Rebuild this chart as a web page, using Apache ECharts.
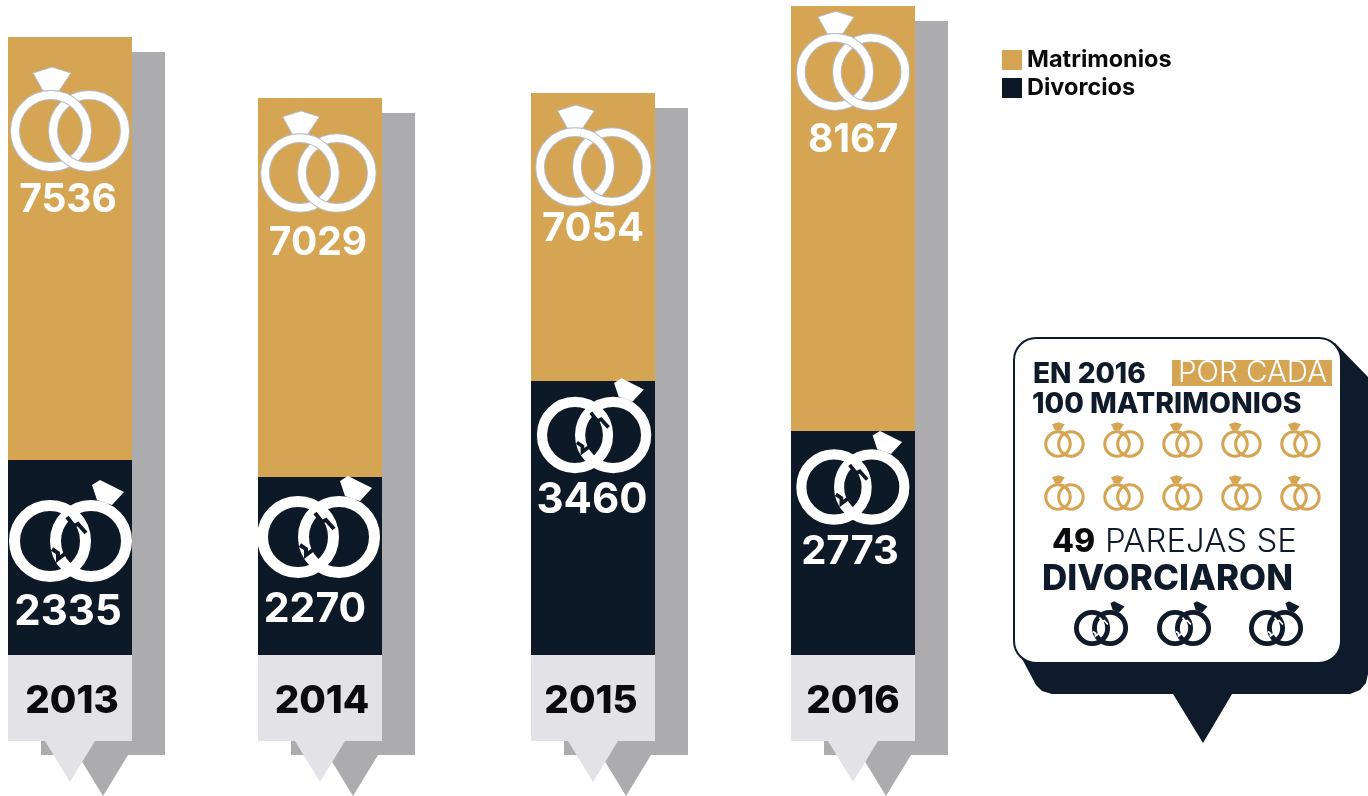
<!DOCTYPE html>
<html>
<head>
<meta charset="utf-8">
<style>html,body{margin:0;padding:0;background:#fff}#c{width:1368px;height:796px}</style>
<script src="https://cdn.jsdelivr.net/npm/echarts@6/dist/echarts.min.js"></script>
</head>
<body>
<div id="c"></div>
<script>
// Printed figures
const years = ['2013', '2014', '2015', '2016'];
const matrimonios = [7536, 7029, 7054, 8167];
const divorcios = [2335, 2270, 3460, 2773];
// The reference's bars are not drawn to the scale of their printed figures,
// so their lengths are read off the picture separately.
const matrimoniosLength = [423, 379, 288, 425];
const divorciosLength = [195, 178, 274, 224];

const GOLD = '#d5a554', NAVY = '#0e1928', GREY = '#acacae', LIGHT = '#e3e2e7', FONT = 'Inter';
const BASE_Y = 655, BAR_W = 124;
const barLeft = [8, 258, 531, 791];
const yearDx = [2, 2, -2, 0];
const matLabelPos = [[60, 163], [60, 145], [62, 136], [62, 134]];
const divLabelPos = [[60, 152], [57, 133], [61, 119], [59, 121]];
const matLabelSize = [39, 39, 40, 39];
const divLabelSize = [42, 41, 42, 40];
const matRings = [[51, 131, 1], [300, 173, 0.97], [575, 167, 0.97], [835, 72, 0.95]];
const divRings = [[50, 541, 1], [298, 537, 1], [575, 435, 0.93], [834, 487, 0.92]];

function ringIcon(cx, cy, s, color, opts) {
  opts = opts || {};
  const out = [], z = 6;
  const gap = (opts.gap || 38) * s, r = (opts.r || 36) * s, lw = (opts.lw || 8) * s;
  const x2 = cx + gap;
  const ring = (x, st, wd) => ({ type: 'circle', silent: true, z: z, shape: { cx: x, cy: cy, r: r }, style: { fill: 'none', stroke: st, lineWidth: wd } });
  const arc = (st, wd) => ({ type: 'arc', silent: true, z: z, shape: { cx: cx, cy: cy, r: r, startAngle: -1.4, endAngle: -0.6, clockwise: true }, style: { fill: 'none', stroke: st, lineWidth: wd } });
  const pts = a => a.map(p => [cx + p[0] * s, cy + p[1] * s]);
  if (opts.broken) {
    out.push({ type: 'polygon', silent: true, z: z, shape: { points: pts([[42, -56], [50, -61], [74, -49], [62, -36], [47, -41]]) }, style: { fill: color } });
    out.push(ring(cx, color, lw), ring(x2, color, lw));
    out.push({ type: 'polyline', silent: true, z: z, shape: { points: pts([[17, -24], [24, -15], [28, -17], [36, -8]]) }, style: { fill: 'none', stroke: opts.bg, lineWidth: 4 * s } });
    out.push({ type: 'polyline', silent: true, z: z, shape: { points: pts([[2, 8], [8, 12], [8, 18], [16, 12]]) }, style: { fill: 'none', stroke: opts.bg, lineWidth: 4 * s } });
  } else {
    out.push({ type: 'polygon', silent: true, z: z, shape: { points: pts([[-18, -58], [1, -64], [20, -58], [8, -40], [-8, -40]]) }, style: { fill: color, stroke: opts.outline || color, lineWidth: opts.outline ? 1 : 0 } });
    if (opts.outline) out.push(ring(cx, opts.outline, lw + 2));
    out.push(ring(cx, color, lw));
    if (opts.outline) out.push(ring(x2, opts.outline, lw + 2));
    out.push(ring(x2, color, lw));
    if (opts.outline) out.push(arc(opts.outline, lw + 2));
    out.push(arc(color, lw));
  }
  return out;
}

const grids = [], xAxes = [], yAxes = [], series = [];
years.forEach((year, i) => {
  grids.push({ left: barLeft[i], top: 0, width: BAR_W, height: BASE_Y, containLabel: false });
  xAxes.push({
    type: 'category', gridIndex: i, data: [year], z: 8,
    axisLine: { show: false }, axisTick: { show: false },
    axisLabel: {
      margin: 27, color: '#0b0b0d', fontFamily: FONT, fontWeight: 800, fontSize: 38.5,
      padding: yearDx[i] > 0 ? [0, 0, 0, 2 * yearDx[i]] : [0, -2 * yearDx[i], 0, 0]
    }
  });
  yAxes.push({ type: 'value', gridIndex: i, min: 0, max: BASE_Y, show: false });
  series.push({
    type: 'custom', name: 'backing', xAxisIndex: i, yAxisIndex: i, z: 1, silent: true,
    data: [[0, matrimoniosLength[i] + divorciosLength[i]]],
    renderItem: function (params, api) {
      const top = api.coord([0, api.value(1)])[1];
      const l = barLeft[i];
      return {
        type: 'group', children: [
          { type: 'polygon', shape: { points: [[l + 33, top + 15], [l + 157, top + 15], [l + 157, 755], [l + 120, 755], [l + 95, 796], [l + 70, 755], [l + 33, 755]] }, style: { fill: GREY } },
          { type: 'polygon', shape: { points: [[l, BASE_Y], [l + BAR_W, BASE_Y], [l + BAR_W, 741], [l + 87, 741], [l + 62, 782], [l + 37, 741], [l, 741]] }, style: { fill: LIGHT } }
        ]
      };
    }
  });
  const lbl = (txt, pos, size) => ({
    show: true, position: pos, align: 'center', verticalAlign: 'middle', formatter: String(txt),
    color: '#fff', fontFamily: FONT, fontWeight: 700, fontSize: size
  });
  series.push({
    type: 'bar', name: 'Divorcios', xAxisIndex: i, yAxisIndex: i, stack: 's' + i, barWidth: '100%', z: 3,
    itemStyle: { color: NAVY }, silent: true,
    label: lbl(divorcios[i], divLabelPos[i], divLabelSize[i]),
    data: [divorciosLength[i]]
  });
  series.push({
    type: 'bar', name: 'Matrimonios', xAxisIndex: i, yAxisIndex: i, stack: 's' + i, barWidth: '100%', z: 3,
    itemStyle: { color: GOLD }, silent: true,
    label: lbl(matrimonios[i], matLabelPos[i], matLabelSize[i]),
    data: [matrimoniosLength[i]]
  });
});

const txt = (x, baseline, text, size, weight, color) => ({
  type: 'text', silent: true, z: 7, x: x, y: baseline - 0.36 * size,
  style: { text: text, fontFamily: FONT, fontSize: size, fontWeight: weight, fill: color, verticalAlign: 'middle' }
});

const graphics = [
  { type: 'polygon', silent: true, z: 3, shape: { points: [[1335, 343], [1368, 377], [1368, 674], [1366, 683], [1360, 690], [1350, 694], [1232, 694], [1203, 743], [1173, 694], [1052, 694], [1042, 691], [1036, 685], [1020, 655]] }, style: { fill: '#0f1a2a' } },
  { type: 'rect', silent: true, z: 4, shape: { x: 1014, y: 338, width: 327, height: 325, r: 22 }, style: { fill: '#fff', stroke: '#0f1a2a', lineWidth: 2 } },
  { type: 'rect', silent: true, z: 5, shape: { x: 1172, y: 360, width: 160, height: 26 }, style: { fill: GOLD } },
  txt(1033, 385, 'EN 2016', 28, 800, '#0f1a2a'),
  txt(1178, 384, 'POR CADA', 29.5, 300, '#fff'),
  txt(1032, 415, '100 MATRIMONIOS', 28.4, 800, '#0f1a2a'),
  txt(1052, 554, '49', 32, 800, '#0b0b0d'),
  txt(1105, 554, 'PAREJAS SE', 33, 300, '#0f1a2a'),
  txt(1042, 592, 'DIVORCIARON', 35, 800, '#0f1a2a')
];
matRings.forEach(r => graphics.push(...ringIcon(r[0], r[1], r[2], '#fff', { outline: '#b4bcc6' })));
divRings.forEach(r => graphics.push(...ringIcon(r[0], r[1], r[2], '#fff', { broken: true, bg: NAVY, lw: 11, r: 35.5, gap: 41 })));
[1064, 1123, 1182, 1241, 1300].forEach(x => {
  [444, 497].forEach(y => graphics.push(...ringIcon(x - 6, y, 0.34, GOLD, { lw: 9, r: 36 })));
});
[1092, 1175, 1267].forEach(x => graphics.push(...ringIcon(x, 628, 0.44, '#0f1a2a', { broken: true, bg: '#fff', lw: 11, r: 35.5, gap: 41 })));

const chart = echarts.init(document.getElementById('c'), null, { renderer: 'canvas' });
chart.setOption({
  animation: false,
  backgroundColor: '#fff',
  tooltip: { show: false },
  legend: {
    left: 1002, top: 48, padding: 0, orient: 'vertical', itemWidth: 20, itemHeight: 20, itemGap: 4, selectedMode: false,
    data: [{ name: 'Matrimonios', icon: 'rect' }, { name: 'Divorcios', icon: 'rect' }],
    textStyle: { fontFamily: FONT, fontSize: 23.5, fontWeight: 700, color: '#0b0b0d' }
  },
  grid: grids, xAxis: xAxes, yAxis: yAxes, series: series, graphic: { elements: graphics }
});
</script>
</body>
</html>
